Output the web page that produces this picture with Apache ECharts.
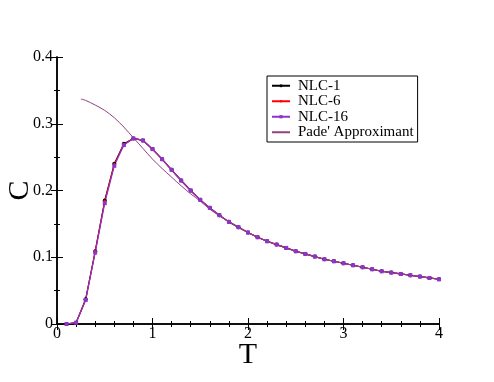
<!DOCTYPE html>
<html>
<head>
<meta charset="utf-8">
<script src="https://cdn.jsdelivr.net/npm/echarts@6/dist/echarts.min.js"></script>
<style>
  html, body { margin: 0; padding: 0; background: #fff; }
  #chart { width: 494px; height: 382px; }
</style>
</head>
<body>
<div id="chart"></div>
<script>
// Temperatures for the NLC series
const temps = [0.1, 0.2, 0.3, 0.4, 0.5, 0.6, 0.7, 0.8, 0.9, 1.0,
  1.1, 1.2, 1.3, 1.4, 1.5, 1.6, 1.7, 1.8, 1.9, 2.0,
  2.1, 2.2, 2.3, 2.4, 2.5, 2.6, 2.7, 2.8, 2.9, 3.0,
  3.1, 3.2, 3.3, 3.4, 3.5, 3.6, 3.7, 3.8, 3.9, 4.0];

const nlc1 = [0.000, 0.002, 0.037, 0.109, 0.185, 0.240, 0.270, 0.278, 0.275, 0.262,
  0.247, 0.231, 0.215, 0.200, 0.186, 0.174, 0.163, 0.153, 0.145, 0.137,
  0.130, 0.124, 0.119, 0.114, 0.109, 0.105, 0.101, 0.097, 0.094, 0.091,
  0.088, 0.085, 0.082, 0.079, 0.077, 0.075, 0.073, 0.071, 0.069, 0.067];

const nlc6 = [0.000, 0.002, 0.036, 0.109, 0.184, 0.239, 0.269, 0.278, 0.275, 0.262,
  0.247, 0.231, 0.215, 0.200, 0.186, 0.174, 0.163, 0.153, 0.145, 0.137,
  0.130, 0.124, 0.119, 0.114, 0.109, 0.105, 0.101, 0.097, 0.094, 0.091,
  0.088, 0.085, 0.082, 0.079, 0.077, 0.075, 0.073, 0.071, 0.069, 0.067];

const nlc16 = [0.000, 0.002, 0.036, 0.107, 0.181, 0.237, 0.268, 0.278, 0.275, 0.262,
  0.247, 0.231, 0.215, 0.200, 0.186, 0.174, 0.163, 0.153, 0.145, 0.137,
  0.130, 0.124, 0.119, 0.114, 0.109, 0.105, 0.101, 0.097, 0.094, 0.091,
  0.088, 0.085, 0.082, 0.079, 0.077, 0.075, 0.073, 0.071, 0.069, 0.067];

// Pade approximant curve
const padeT = [0.25, 0.3, 0.4, 0.5, 0.6, 0.7, 0.8, 0.9, 1.0, 1.1,
  1.2, 1.3, 1.4, 1.5, 1.6, 1.7, 1.8, 1.9, 2.0, 2.2,
  2.4, 2.6, 2.8, 3.0, 3.2, 3.4, 3.6, 3.8, 4.0];
const padeC = [0.337, 0.335, 0.328, 0.320, 0.309, 0.295, 0.279, 0.263, 0.247, 0.233,
  0.220, 0.207, 0.195, 0.184, 0.172, 0.162, 0.153, 0.145, 0.137, 0.124,
  0.114, 0.105, 0.097, 0.091, 0.085, 0.079, 0.075, 0.071, 0.067];

const xTicks = [0, 1, 2, 3, 4];
const yTicks = [0, 0.1, 0.2, 0.3, 0.4];

const serif = 'Liberation Serif';

function pairs(xs, ys) {
  return xs.map((x, i) => [x, ys[i]]);
}

const chart = echarts.init(document.getElementById('chart'));

const axisLine = { show: true, lineStyle: { color: '#000', width: 1.5 } };
const baseX = {
  type: 'value', min: xTicks[0], max: xTicks[xTicks.length - 1], interval: 1,
  axisLine: axisLine,
  axisTick: { inside: true, length: 6, lineStyle: { color: '#000' } },
  minorTick: { show: true, splitNumber: 5, length: 3, lineStyle: { color: '#000' } },
  splitLine: { show: false }
};
const baseY = {
  type: 'value', min: yTicks[0], max: yTicks[yTicks.length - 1], interval: 0.1,
  axisLine: axisLine,
  axisTick: { inside: true, length: 6, lineStyle: { color: '#000' } },
  minorTick: { show: true, splitNumber: 2, length: 3, lineStyle: { color: '#000' } },
  splitLine: { show: false }
};

function nlcSeries(name, data, color, symbol) {
  return {
    name: name,
    type: 'line',
    data: pairs(temps, data),
    symbol: symbol,
    symbolSize: 4,
    showSymbol: true,
    itemStyle: { color: color },
    lineStyle: { color: color, width: 1.2 },
    emphasis: { disabled: true }
  };
}

const option = {
  animation: false,
  backgroundColor: '#fff',
  grid: { left: 57, right: 55, top: 57, bottom: 58, containLabel: false, outerBoundsMode: 'none' },
  legend: {
    orient: 'vertical',
    left: 267,
    top: 76,
    width: 150,
    padding: [2, 4, 2, 4],
    itemGap: 0,
    itemWidth: 18,
    itemHeight: 4,
    borderColor: '#000',
    borderWidth: 1,
    backgroundColor: '#fff',
    textStyle: { fontFamily: serif, fontSize: 15, lineHeight: 15.5, color: '#000', padding: [0, 0, 0, 3] },
    data: [
      'NLC-1',
      'NLC-6',
      'NLC-16',
      { name: "Pade' Approximant", itemStyle: { color: 'rgba(0,0,0,0)' } }
    ]
  },
  xAxis: [
    Object.assign({}, baseX, {
      position: 'bottom',
      name: 'T',
      nameLocation: 'middle',
      nameMoveOverlap: false,
      nameGap: 16,
      nameTextStyle: { fontFamily: serif, fontSize: 30, color: '#000', verticalAlign: 'top' },
      axisLabel: { fontFamily: serif, fontSize: 16, color: '#000', margin: 2 }
    }),
    Object.assign({}, baseX, { position: 'top', axisLabel: { show: false } })
  ],
  yAxis: [
    Object.assign({}, baseY, {
      position: 'left',
      name: 'C',
      nameLocation: 'middle',
      nameMoveOverlap: false,
      nameGap: 37,
      nameRotate: 90,
      nameTextStyle: { fontFamily: serif, fontSize: 30, color: '#000', verticalAlign: 'middle' },
      axisLabel: { fontFamily: serif, fontSize: 16, color: '#000', margin: 4 }
    }),
    Object.assign({}, baseY, { position: 'right', axisLabel: { show: false } })
  ],
  series: [
    nlcSeries('NLC-1', nlc1, '#000000', 'circle'),
    nlcSeries('NLC-6', nlc6, '#ff0000', 'diamond'),
    nlcSeries('NLC-16', nlc16, '#8b35c9', 'rect'),
    {
      name: "Pade' Approximant",
      type: 'line',
      data: pairs(padeT, padeC),
      smooth: 0.3,
      showSymbol: false,
      symbol: 'none',
      itemStyle: { color: '#94407f' },
      lineStyle: { color: '#94407f', width: 1 },
      emphasis: { disabled: true }
    }
  ]
};

chart.setOption(option);
</script>
</body>
</html>
